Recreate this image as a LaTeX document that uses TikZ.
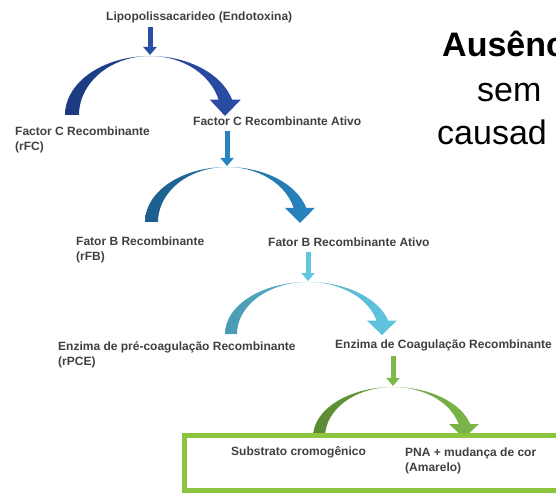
\documentclass[tikz,border=0pt]{standalone}
\usepackage{fontspec}
\setmainfont{Liberation Sans}
\definecolor{lalgray}{RGB}{64,64,64}
\definecolor{lalnavyL}{RGB}{27,58,128}
\definecolor{lalnavyR}{RGB}{42,78,166}
\definecolor{lalsteelL}{RGB}{28,94,140}
\definecolor{lalsteelR}{RGB}{40,132,192}
\definecolor{lalskyL}{RGB}{74,155,179}
\definecolor{lalskyR}{RGB}{98,198,226}
\definecolor{lalgreenL}{RGB}{90,138,50}
\definecolor{lalgreenR}{RGB}{125,184,74}
\definecolor{lalbox}{RGB}{140,196,63}
\usetikzlibrary{arrows.meta,positioning,calc}

\begin{document}
\begin{tikzpicture}[x=1pt, y=-1pt,
  lbl/.style={font=\fontsize{12}{15}\selectfont\bfseries, text=lalgray, inner sep=0pt, align=left},
  big/.style={font=\fontsize{34}{40}\selectfont, text=black, inner sep=0pt, anchor=base west},
  drop/.style={line width=5pt, -{Triangle[width=13pt,length=8pt]}, shorten >=1pt}]
\useasboundingbox (0,0) rectangle (556,494);
\clip (0,0) rectangle (556,494);

% === Heading on the right ===
\node[big, font=\fontsize{34}{40}\selectfont\bfseries] (aus) at (442,57) {Ausênc};
\node[big] (sem) at (477,102) {sem};
\node[big] (causa) at (437,145) {causad};

% === Stage 1 (Navy) ===
\node[lbl, anchor=west] (lps) at (106,17) {Lipopolissacarideo (Endotoxina)};
\coordinate (c1) at (150,115);
\coordinate (top1) at (150,56);
\draw[drop, lalnavyR] ([yshift=-4pt]lps.south -| top1) -- (top1);
\shade[left color=lalnavyL, right color=lalnavyR]
  ([shift={(180:85 and 59)}]c1) arc[start angle=180, end angle=345, x radius=85, y radius=59]
  -- ([shift={(345:94 and 59)}]c1) -- ([shift={(75,1)}]c1)
  -- ([shift={(345:62 and 59)}]c1) -- ([shift={(345:71 and 59)}]c1)
  arc[start angle=345, end angle=180, x radius=71, y radius=59] -- cycle;
\node[lbl, anchor=north west] (rfc) at (15,127) {Factor C Recombinante\\(rFC)};
\node[lbl, anchor=west] (fca) at (193,121) {Factor C Recombinante Ativo};

% === Stage 2 (Steel blue) ===
\coordinate (c2) at (227,222);
\coordinate (top2) at (227,167);
\draw[drop, lalsteelR] ([yshift=-5pt]fca.south -| top2) -- (top2);
\shade[left color=lalsteelL, right color=lalsteelR]
  ([shift={(180:82 and 55)}]c2) arc[start angle=180, end angle=345, x radius=82, y radius=55]
  -- ([shift={(345:91 and 55)}]c2) -- ([shift={(73,1)}]c2)
  -- ([shift={(345:60 and 55)}]c2) -- ([shift={(345:69 and 55)}]c2)
  arc[start angle=345, end angle=180, x radius=69, y radius=55] -- cycle;
\node[lbl, anchor=north west] (rfb) at (76,237) {Fator B Recombinante\\(rFB)};
\node[lbl, anchor=west] (fba) at (268,242) {Fator B Recombinante Ativo};

% === Stage 3 (Sky blue) ===
\coordinate (c3) at (308,334);
\coordinate (top3) at (308,282);
\draw[drop, lalskyR] ([yshift=-5pt]fba.south -| top3) -- (top3);
\shade[left color=lalskyL, right color=lalskyR]
  ([shift={(180:83 and 52)}]c3) arc[start angle=180, end angle=345, x radius=83, y radius=52]
  -- ([shift={(345:92 and 52)}]c3) -- ([shift={(74,1)}]c3)
  -- ([shift={(345:61 and 52)}]c3) -- ([shift={(345:71 and 52)}]c3)
  arc[start angle=345, end angle=180, x radius=71, y radius=52] -- cycle;
\node[lbl, anchor=north west] (rpce) at (58,341) {Enzima de pré-coagulação Recombinante\\(rPCE)};
\node[lbl, anchor=west] (eca) at (335,345) {Enzima de Coagulação Recombinante};

% === Stage 4 (Green) ===
\coordinate (c4) at (393,437);
\coordinate (top4) at (393,387);
\draw[drop, lalgreenR] ([yshift=-5pt]eca.south -| top4) -- (top4);
\shade[left color=lalgreenL, right color=lalgreenR]
  ([shift={(180:80 and 50)}]c4) arc[start angle=180, end angle=345, x radius=80, y radius=50]
  -- ([shift={(345:89 and 50)}]c4) -- ([shift={(71,1)}]c4)
  -- ([shift={(345:58 and 50)}]c4) -- ([shift={(345:68 and 50)}]c4)
  arc[start angle=345, end angle=180, x radius=68, y radius=50] -- cycle;

% === Result box ===
\draw[lalbox, line width=5pt, fill=white] (184.5,435.5) rectangle (575,490.5);
\node[lbl, anchor=west] (sub) at (231,452) {Substrato cromogênico};
\node[lbl, anchor=north west] (pna) at (405,448) {PNA + mudança de cor\\(Amarelo)};

\end{tikzpicture}
\end{document}
